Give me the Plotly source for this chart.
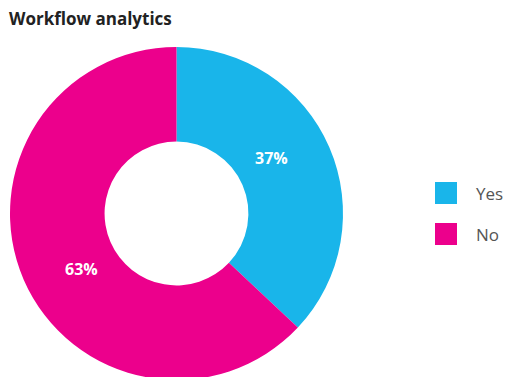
import math
import plotly.graph_objects as go

# Survey answers
labels = ["Yes", "No"]
values = [37, 63]
colors = ["#19B5EA", "#EC008C"]
title_text = "Workflow analytics"

W, H = 505, 386

# Pie geometry in pixels
CX, CY, R_OUT = 176.5, 213.5, 166.5
HOLE = 0.432


def px(x):
    return x / W


def py(y):
    return 1 - y / H


fig = go.Figure(
    go.Pie(
        labels=labels,
        values=values,
        hole=HOLE,
        sort=False,
        direction="clockwise",
        rotation=0,
        marker=dict(colors=colors, line=dict(width=0)),
        textinfo="none",
        hoverinfo="label+percent",
        showlegend=False,
        domain=dict(x=[px(CX - R_OUT), px(CX + R_OUT)],
                    y=[py(CY + R_OUT), py(CY - R_OUT)]),
    )
)

annotations = []

# Percentage labels placed inside each slice
total = sum(values)
start = 0.0
label_r = 110
for v in values:
    frac = v / total
    mid = (start + frac / 2) * 360 - 7
    a = math.radians(mid)
    x = CX + label_r * math.sin(a)
    y = CY - label_r * math.cos(a)
    annotations.append(dict(text="<b>%d%%</b>" % round(frac * 100),
                            xref="paper", yref="paper", x=px(x), y=py(y),
                            xanchor="center", yanchor="middle", showarrow=False,
                            font=dict(family="Open Sans", size=16, color="white")))
    start += frac

# Legend drawn as squares with labels
shapes = []
for i, (lab, col) in enumerate(zip(labels, colors)):
    top = 182 + i * 41
    shapes.append(dict(type="rect", xref="paper", yref="paper",
                       x0=px(435), x1=px(457), y0=py(top + 22), y1=py(top),
                       fillcolor=col, line=dict(width=0)))
    annotations.append(dict(text=lab, xref="paper", yref="paper",
                            x=px(474), y=py(top + 11), xanchor="left", yanchor="middle",
                            showarrow=False,
                            font=dict(family="Open Sans", size=17, color="#555555")))

annotations.append(dict(text="<b>" + title_text + "</b>", xref="paper", yref="paper",
                        x=px(7), y=py(19), xanchor="left", yanchor="middle",
                        showarrow=False,
                        font=dict(family="Open Sans", size=17, color="#222222")))

fig.update_layout(
    width=W, height=H, autosize=False,
    margin=dict(l=0, r=0, t=0, b=0),
    paper_bgcolor="white", plot_bgcolor="white",
    shapes=shapes, annotations=annotations,
)

fig.write_html("out.html")
